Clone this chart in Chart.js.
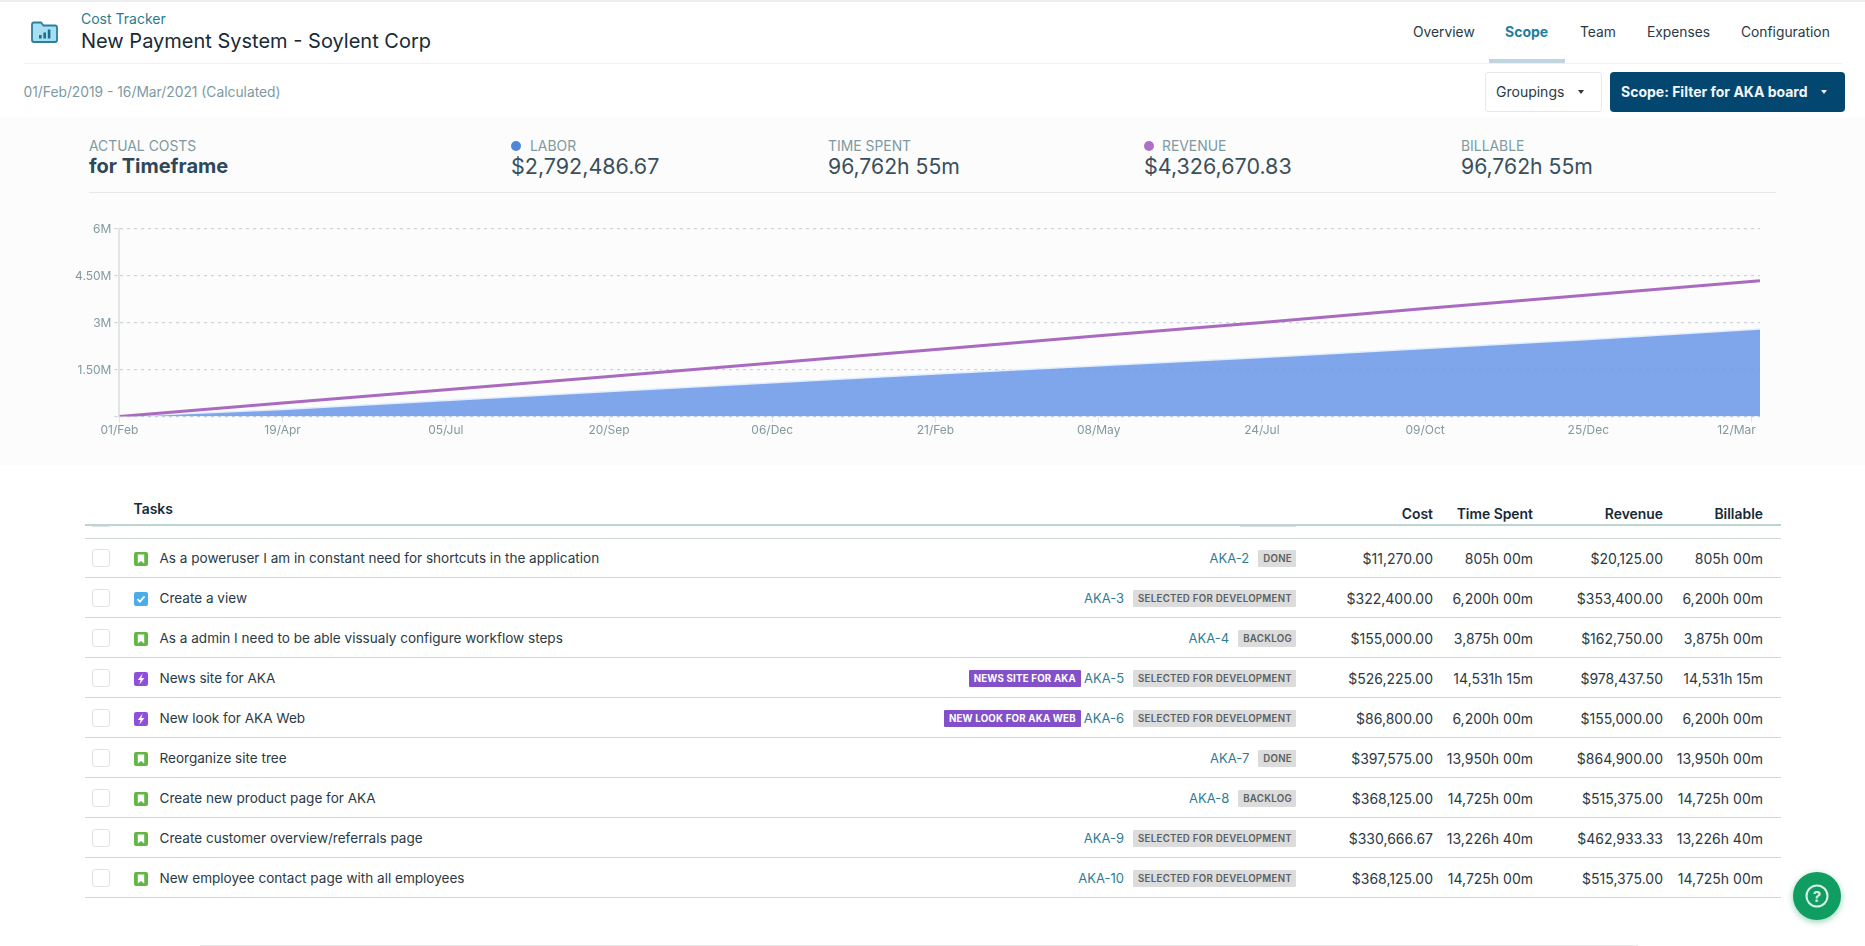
<!DOCTYPE html>
<html><head><meta charset="utf-8">
<script src="https://cdn.jsdelivr.net/npm/chart.js@4"></script>
<style>
*{box-sizing:border-box}
html,body{margin:0;padding:0;width:1865px;height:946px;overflow:hidden;background:#fff;font-family:Inter,"Noto Sans",sans-serif;color:#172b36}
.a{position:absolute;white-space:nowrap;line-height:1}
.lab{font-size:13.9px;color:#7d9aa0}
.val{font-size:21.5px;color:#3a4f5c}
.nav{font-size:13.8px;color:#2a3a44}
.row{position:absolute;left:85px;width:1696px;height:40px;border-bottom:1px solid #cfd9da}
.row .cb{position:absolute;left:7px;top:11px;width:18px;height:18px;border:1px solid #dfe3e6;border-radius:3px;background:#fff}
.row svg{position:absolute;left:49px;top:13.5px;width:14px;height:14px}
.row .n{position:absolute;left:74.5px;top:13.5px;font-size:13.55px;line-height:1;color:#2a3a44;white-space:nowrap}
.tags{position:absolute;right:485px;top:11.5px;height:17px;display:flex;align-items:center;white-space:nowrap}
.id{font-size:13px;color:#2f7d95;margin-right:9px}
.st{background:#dcdcdc;color:#5a5f63;font-size:9.7px;font-weight:600;letter-spacing:.27px;height:17px;line-height:17px;padding:0 4px 0 5px;border-radius:1px}
.ep{background:#8450c9;color:#fff;font-size:9.7px;font-weight:700;letter-spacing:.2px;height:17px;line-height:17px;padding:0 5px;margin-right:3px;border-radius:1px}
.c{position:absolute;top:13.5px;font-size:14px;line-height:1;color:#2a3a44;white-space:nowrap;text-align:right}
.h{font-size:13.9px;font-weight:600;color:#172b36}
</style></head><body>
<div class="a" style="left:0;top:0;width:1865px;height:2px;background:#eceef0"></div>

<svg class="a" style="left:31px;top:21px" width="27" height="22" viewBox="0 0 27 22"><path d="M1 3.5Q1 1.5 3 1.5H10L12.5 4.5H24Q26 4.5 26 6.5V19Q26 21 24 21H3Q1 21 1 19Z" fill="#a6dff2" stroke="#2c7e9c" stroke-width="1.8"/><rect x="8" y="14" width="2.6" height="3.5" fill="#1f6c8a"/><rect x="12.4" y="11.5" width="2.6" height="6" fill="#1f6c8a"/><rect x="16.8" y="8.5" width="2.6" height="9" fill="#1f6c8a"/></svg>
<div class="a" style="left:81px;top:12px;font-size:14px;color:#2a7b90">Cost Tracker</div>
<div class="a" style="left:81px;top:30.5px;font-size:20px;color:#172b36">New Payment System - Soylent Corp</div>
<div class="a" style="left:24px;top:63px;width:1818px;height:1px;background:#eef0f1"></div>
<div class="a" style="left:1489px;top:59px;width:76px;height:4px;background:#bfd5df"></div>
<div class="a nav" style="left:1413px;top:26px">Overview</div>
<div class="a" style="left:1505px;top:25px;font-size:14px;font-weight:700;color:#1f7f9c">Scope</div>
<div class="a nav" style="left:1580px;top:26px">Team</div>
<div class="a nav" style="left:1647px;top:26px">Expenses</div>
<div class="a nav" style="left:1741px;top:26px">Configuration</div>
<div class="a" style="left:23.5px;top:86px;font-size:13.8px;color:#7d9aa0">01/Feb/2019 - 16/Mar/2021 (Calculated)</div>
<div class="a" style="left:1485px;top:72px;width:117px;height:40px;background:#fff;border:1px solid #e6e8ea;border-radius:3px"></div>
<div class="a" style="left:1496px;top:85px;font-size:14px;color:#2a3a44">Groupings</div>
<div class="a" style="left:1578px;top:90px;width:0;height:0;border-left:3px solid transparent;border-right:3px solid transparent;border-top:4px solid #333"></div>
<div class="a" style="left:1610px;top:72px;width:235px;height:40px;background:#03466f;border-radius:4px"></div>
<div class="a" style="left:1621px;top:85px;font-size:14px;font-weight:700;color:#f2f6f8">Scope: Filter for AKA board</div>
<div class="a" style="left:1821px;top:90px;width:0;height:0;border-left:3px solid transparent;border-right:3px solid transparent;border-top:4px solid #e8eef2"></div>

<div class="a" style="left:0;top:118px;width:1865px;height:347px;background:#fcfcfc"></div>
<div class="a lab" style="left:89px;top:140px">ACTUAL COSTS</div>
<div class="a" style="left:89px;top:156px;font-size:20px;font-weight:700;color:#2f4858">for Timeframe</div>
<div class="a" style="left:511px;top:141px;width:10px;height:10px;border-radius:50%;background:#4f86dc"></div>
<div class="a lab" style="left:530px;top:140px">LABOR</div>
<div class="a val" style="left:511px;top:155.5px">$2,792,486.67</div>
<div class="a lab" style="left:828px;top:140px">TIME SPENT</div>
<div class="a val" style="left:828px;top:155.5px;font-size:21.2px">96,762h 55m</div>
<div class="a" style="left:1144px;top:141px;width:10px;height:10px;border-radius:50%;background:#ae6fc9"></div>
<div class="a lab" style="left:1162px;top:140px">REVENUE</div>
<div class="a val" style="left:1144px;top:155.5px">$4,326,670.83</div>
<div class="a lab" style="left:1461px;top:140px">BILLABLE</div>
<div class="a val" style="left:1461px;top:155.5px;font-size:21.2px">96,762h 55m</div>
<div class="a" style="left:89px;top:192px;width:1687px;height:1px;background:#e6e9ea"></div>

<canvas id="chart" width="1865" height="260" style="position:absolute;left:0;top:200px;width:1865px;height:260px"></canvas>

<div class="a h" style="left:133.5px;top:503px">Tasks</div>
<div class="a h" style="right:432px;top:508px">Cost</div>
<div class="a h" style="right:332px;top:508px">Time Spent</div>
<div class="a h" style="right:202px;top:508px">Revenue</div>
<div class="a h" style="right:102px;top:508px">Billable</div>
<div class="a" style="left:92px;top:524px;width:18px;height:3px;border:1px solid #dfe3e6;border-top:none"></div>
<div class="a" style="left:1240px;top:524px;width:56px;height:3px;background:#dcdcdc"></div>
<div class="a" style="left:85px;top:524px;width:1696px;height:2px;background:#bcd5d4"></div>
<div class="a" style="left:85px;top:538px;width:1696px;height:1px;background:#cfd9da"></div>
<div id="rows"></div>

<div class="a" style="left:200px;top:945px;width:1438px;height:1px;background:#e8e8e8"></div>
<div class="a" style="left:1793px;top:872px;width:48px;height:48px;border-radius:50%;background:#0f9d62;box-shadow:0 2px 6px rgba(15,157,98,.45)"></div>
<svg class="a" style="left:1804px;top:883px" width="26" height="26" viewBox="0 0 26 26"><circle cx="13" cy="13" r="10.5" fill="none" stroke="#d9f3e7" stroke-width="2"/><text x="13" y="18.5" text-anchor="middle" font-family="Inter" font-weight="700" font-size="15" fill="#d9f3e7">?</text></svg>

<script>
// ---- chart data (in millions) ----
const dayOffsets = [0, 77, 154, 231, 308, 385, 462, 539, 616, 693, 774];
const laborM     = [0, 0.22, 0.51, 0.80, 1.08, 1.36, 1.62, 1.88, 2.17, 2.46, 2.79];
const revenueM   = [0, 0.43, 0.85, 1.28, 1.71, 2.14, 2.58, 3.00, 3.45, 3.88, 4.33];
const xTickDays   = [0, 77, 154, 231, 308, 385, 462, 539, 616, 693, 770];
const xTickLabels = ["01/Feb","19/Apr","05/Jul","20/Sep","06/Dec","21/Feb","08/May","24/Jul","09/Oct","25/Dec","12/Mar"];
const yTickValues = [0, 1.5, 3, 4.5, 6];
const yTickLabels = ["", "1.50M", "3M", "4.50M", "6M"];

// ---- task table ----
const taskNames  = ["As a poweruser I am in constant need for shortcuts in the application","Create a view","As a admin I need to be able vissualy configure workflow steps","News site for AKA","New look for AKA Web","Reorganize site tree","Create new product page for AKA","Create customer overview/referrals page","New employee contact page with all employees"];
const taskTypes  = ["story","task","story","epic","epic","story","story","story","story"];
const taskEpics  = ["","","","NEWS SITE FOR AKA","NEW LOOK FOR AKA WEB","","","",""];
const taskIds    = ["AKA-2","AKA-3","AKA-4","AKA-5","AKA-6","AKA-7","AKA-8","AKA-9","AKA-10"];
const taskStatus = ["DONE","SELECTED FOR DEVELOPMENT","BACKLOG","SELECTED FOR DEVELOPMENT","SELECTED FOR DEVELOPMENT","DONE","BACKLOG","SELECTED FOR DEVELOPMENT","SELECTED FOR DEVELOPMENT"];
const taskCost   = ["$11,270.00","$322,400.00","$155,000.00","$526,225.00","$86,800.00","$397,575.00","$368,125.00","$330,666.67","$368,125.00"];
const taskTime   = ["805h 00m","6,200h 00m","3,875h 00m","14,531h 15m","6,200h 00m","13,950h 00m","14,725h 00m","13,226h 40m","14,725h 00m"];
const taskRev    = ["$20,125.00","$353,400.00","$162,750.00","$978,437.50","$155,000.00","$864,900.00","$515,375.00","$462,933.33","$515,375.00"];
const taskBill   = ["805h 00m","6,200h 00m","3,875h 00m","14,531h 15m","6,200h 00m","13,950h 00m","14,725h 00m","13,226h 40m","14,725h 00m"];

const icons = {
  story:'<svg viewBox="0 0 14 14"><rect width="14" height="14" rx="2" fill="#63b545"/><path d="M3.8 2.5h6.4v9L7 9 3.8 11.5z" fill="#fff"/></svg>',
  task:'<svg viewBox="0 0 14 14"><rect width="14" height="14" rx="2" fill="#4bade8"/><path d="M3.5 7.2l2.4 2.4 4.6-5.2" fill="none" stroke="#fff" stroke-width="1.8"/></svg>',
  epic:'<svg viewBox="0 0 14 14"><rect width="14" height="14" rx="2" fill="#8f4fdc"/><path d="M8.6 1.5L3.8 8H6.6L5.4 12.5 10.4 6H7.4z" fill="#fff"/></svg>'
};
let html = "";
taskNames.forEach((name, i) => {
  html += `<div class="row" style="top:${538.3 + i * 40}px">
    <div class="cb"></div>${icons[taskTypes[i]]}
    <div class="n">${name}</div>
    <div class="tags">${taskEpics[i] ? `<span class="ep">${taskEpics[i]}</span>` : ""}<span class="id">${taskIds[i]}</span><span class="st">${taskStatus[i]}</span></div>
    <div class="c" style="right:348px">${taskCost[i]}</div>
    <div class="c" style="right:248px">${taskTime[i]}</div>
    <div class="c" style="right:118px">${taskRev[i]}</div>
    <div class="c" style="right:18px">${taskBill[i]}</div>
  </div>`;
});
document.getElementById("rows").innerHTML = html;

const toXY = arr => arr.map((v, i) => ({ x: dayOffsets[i], y: v }));
const nudgeLabels = {
  id: "nudgeLabels",
  beforeDraw(chart) {
    const xItems = chart.scales.x.getLabelItems();
    const last = xItems[xItems.length - 1];
    if (last && !last._n) { last.options.translation[0] -= 15; last._n = true; }
    chart.scales.y.getLabelItems().forEach(it => {
      if (!it._n) { it.options.translation[1] += 1; it._n = true; }
    });
  }
};
new Chart(document.getElementById("chart"), {
  type: "line",
  data: { datasets: [
    { label: "Revenue", data: toXY(revenueM), borderColor: "#aa6ac0", borderWidth: 3, pointRadius: 0, fill: false, tension: 0, order: 1 },
    { label: "Labor", data: toXY(laborM), borderColor: "#e3edfc", borderWidth: 1.5, backgroundColor: "rgba(104,151,230,.85)", pointRadius: 0, fill: "origin", tension: 0, order: 2 }
  ]},
  plugins: [nudgeLabels],
  options: {
    responsive: false, animation: false,
    layout: { padding: { top: 28.5, right: 105, left: 0, bottom: 0 } },
    plugins: { legend: { display: false }, tooltip: { enabled: false } },
    scales: {
      x: {
        type: "linear", min: 0, max: 774,
        afterBuildTicks(s) { s.ticks = xTickDays.map(v => ({ value: v })); },
        afterFit(s) { s.height = 43.5; },
        border: { display: false },
        grid: { drawOnChartArea: false, color: "#e1e5e8", tickLength: 6 },
        ticks: { autoSkip: false, maxRotation: 0, padding: 1, color: "#8299a0", font: { family: "Inter", size: 12 },
          callback: (v, i) => xTickLabels[i] }
      },
      y: {
        min: 0, max: 6,
        afterBuildTicks(s) { s.ticks = yTickValues.map(v => ({ value: v })); },
        afterFit(s) { s.width = 119.4; },
        border: { display: true, color: "#e1e5e8", width: 2, dash: [3, 4] },
        grid: { color: "#ccd4d8", tickLength: 5, tickBorderDash: [3, 4], lineWidth: 1.2 },
        ticks: { padding: 3, color: "#8299a0", font: { family: "Inter", size: 12 },
          callback: (v, i) => yTickLabels[i] }
      }
    }
  }
});
</script>
</body></html>
